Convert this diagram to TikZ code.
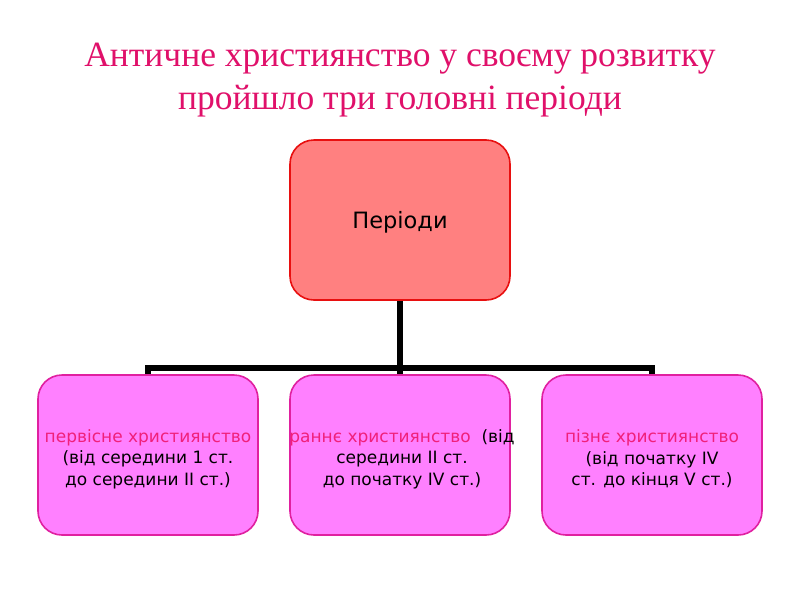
\documentclass[tikz,border=0pt]{standalone}
\usepackage{fontspec}
\setmainfont{Liberation Serif}
\newfontfamily\boxfont{DejaVu Sans}
\definecolor{titlec}{HTML}{E0106A}
\definecolor{pinkt}{HTML}{F0207A}
\definecolor{topfill}{HTML}{FF8080}
\definecolor{topdraw}{HTML}{E81010}
\definecolor{botfill}{HTML}{FF80FF}
\definecolor{botdraw}{HTML}{E020A0}
\begin{document}
\begin{tikzpicture}[x=1pt,y=-1pt,
  topbox/.style={draw=topdraw, fill=topfill, line width=1.6pt, rounded corners=24pt,
    minimum width=220pt, minimum height=160pt, inner sep=0pt},
  botbox/.style={draw=botdraw, fill=botfill, line width=1.6pt, rounded corners=24pt,
    minimum width=220pt, minimum height=160pt, inner sep=0pt},
  toptext/.style={font=\boxfont\fontsize{22.5}{26}\selectfont, inner sep=0pt},
  bottext/.style={font=\boxfont\fontsize{17}{21.5}\selectfont, align=center, inner sep=0pt},
  conn/.style={line width=6pt, black}]
\fill[white] (0,0) rectangle (800,600);
\node[font=\fontsize{35.5}{43}\selectfont, text=titlec, align=center] (title) at (400,80)
  {Античне християнство у своєму розвитку\\пройшло три головні періоди};
\node[topbox] (top) at (400,220) {};
\node[toptext] (toplabel) at (400,222) {Періоди};
\node[botbox] (b1) at (148,455) {};
\node[botbox] (b2) at (400,455) {};
\node[botbox] (b3) at (652,455) {};
\node[bottext] (t1) at (148,459) {\textcolor{pinkt}{первісне християнство}\\(від середини 1 ст.\\до середини II ст.)};
\node[bottext] (t2) at (402,459) {\makebox[0pt][c]{\textcolor{pinkt}{раннє християнство} \ (від}\\середини II ст.\\до початку IV ст.)};
\node[bottext] (t3) at (652,459) {\textcolor{pinkt}{пізнє християнство}\\(від початку IV\\ст. до кінця V ст.)};
\coordinate (j) at (400,368);
\draw[conn] (top.south) -- (j);
\draw[conn] (b1.north) |- (j) -| (b3.north);
\draw[conn] (j) -- (b2.north);
\end{tikzpicture}
\end{document}
